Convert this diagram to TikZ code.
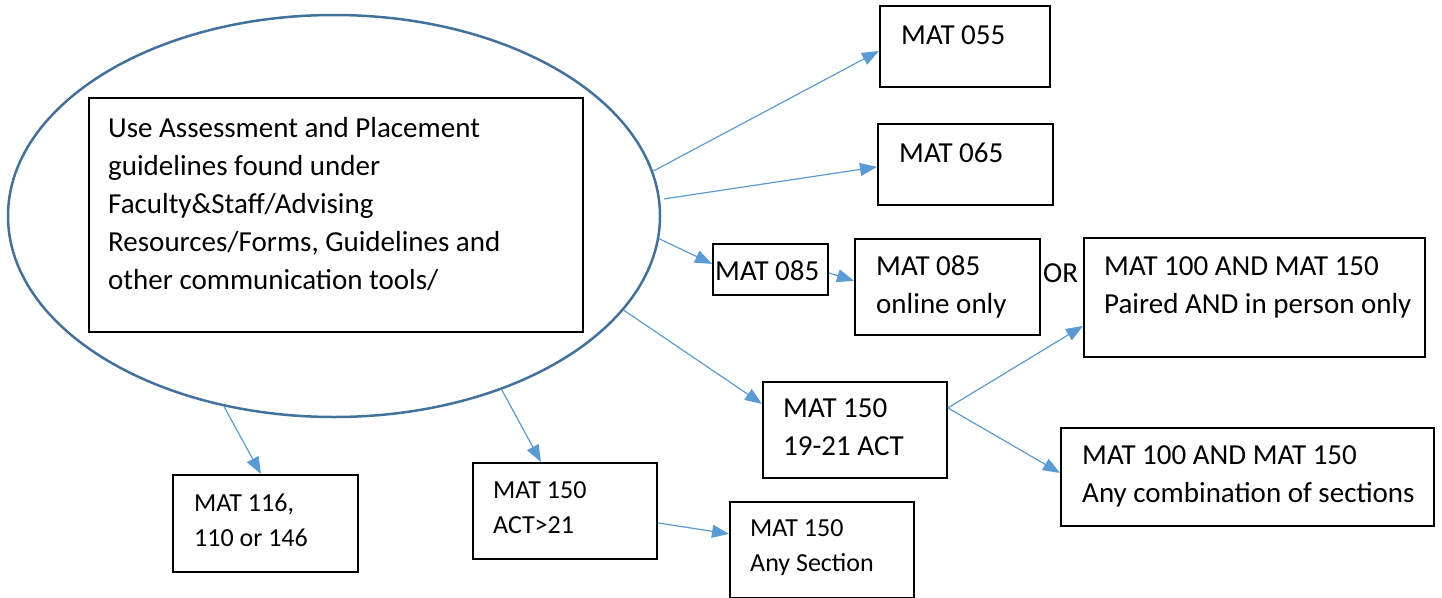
\documentclass[tikz,border=0pt]{standalone}
\usepackage{fontspec}
\setmainfont{Carlito}
\usetikzlibrary{arrows.meta,shapes.geometric,calc}
\definecolor{ellblue}{HTML}{41719C}
\definecolor{arrblue}{HTML}{5B9BD5}
\begin{document}
\begin{tikzpicture}[x=1pt,y=-1pt,
 box/.style={draw=black,line width=1.8pt,anchor=north west,inner sep=0pt},
 txt/.style={anchor=base west,inner sep=0pt,align=left,font=\fontsize{29}{38}\selectfont},
 txts/.style={anchor=base west,inner sep=0pt,align=left,font=\fontsize{26}{35}\selectfont},
 conn/.style={draw=arrblue,line width=1.2pt,-{Triangle[length=17pt,width=13pt]}}]
\useasboundingbox (0,0) rectangle (1442,597);
\node[draw=ellblue,line width=2.5pt,ellipse,minimum width=652pt,minimum height=402pt,inner sep=0pt] (ell) at (334,216) {};
\node[box,minimum width=494pt,minimum height=234pt] (main) at (88,97) {};
% multi-line texts are anchored at the baseline of their last line
\node[txt] (maintext) at (108,289) {Use Assessment and Placement\\guidelines found under\\Faculty\&Staff/Advising\\Resources/Forms, Guidelines and\\other communication tools/};
% boxes
\node[box,minimum width=170pt,minimum height=81pt] (m055) at (879,5) {};
\node[txt] (t055) at (901,44) {MAT 055};
\node[box,minimum width=175pt,minimum height=81pt] (m065) at (877,123) {};
\node[txt] (t065) at (899,162) {MAT 065};
\node[box,minimum width=115pt,minimum height=51pt] (m085) at (712,243) {};
\node[txt] (t085) at (715,280) {MAT 085};
\node[box,minimum width=185pt,minimum height=96pt] (mon) at (854,238) {};
\node[txt] (ton) at (876,313) {MAT 085\\online only};
\node[txt] (or) at (1043,282) {OR};
\node[box,minimum width=341pt,minimum height=119pt] (mpair) at (1083,237) {};
\node[txt] (tpair) at (1104,313) {MAT 100 AND MAT 150\\Paired AND in person only};
\node[box,minimum width=184pt,minimum height=96pt] (m1921) at (762,381) {};
\node[txt] (t1921) at (783,455) {MAT 150\\19-21 ACT};
\node[box,minimum width=373pt,minimum height=98pt] (many) at (1060,427) {};
\node[txt] (tany) at (1082,502) {MAT 100 AND MAT 150\\Any combination of sections};
\node[box,minimum width=185pt,minimum height=97pt] (m116) at (172,474) {};
\node[txts] (t116) at (194,546) {MAT 116,\\110 or 146};
\node[box,minimum width=184pt,minimum height=96pt] (mact) at (472,462) {};
\node[txts] (tact) at (493,533) {MAT 150\\ACT>21};
\node[box,minimum width=184pt,minimum height=96pt] (msec) at (729,501) {};
\node[txts] (tsec) at (750,571) {MAT 150\\Any Section};
% connectors
\draw[conn] (ell.8) -- ($(m055.west)+(0,4.5)$);
\draw[conn] ([xshift=4pt]ell.3) -- ($(m065.west)+(0,2.5)$);
\draw[conn] (ell.-4.75) -- ($(m085.west)+(0,-5.5)$);
\draw[conn] ($(m085.east)+(0,3.5)$) -- ($(mon.west)+(0,-6)$);
\draw[conn] (ell.-18) -- ($(m1921.west)+(0,-26)$);
\draw[conn] ($(m1921.east)+(0,-22)$) -- ($(mpair.west)+(0,28.5)$);
\draw[conn] ($(m1921.east)+(0,-22)$) -- ($(many.west)+(0,-4)$);
\draw[conn] (ell.-46.3) -- ($(mact.north)+(-24,0)$);
\draw[conn] ($(mact.east)+(0,12)$) -- ($(msec.west)+(0,-16)$);
\draw[conn] (ell.-120.9) -- ($(m116.north)+(-4.5,0)$);
\end{tikzpicture}
\end{document}
